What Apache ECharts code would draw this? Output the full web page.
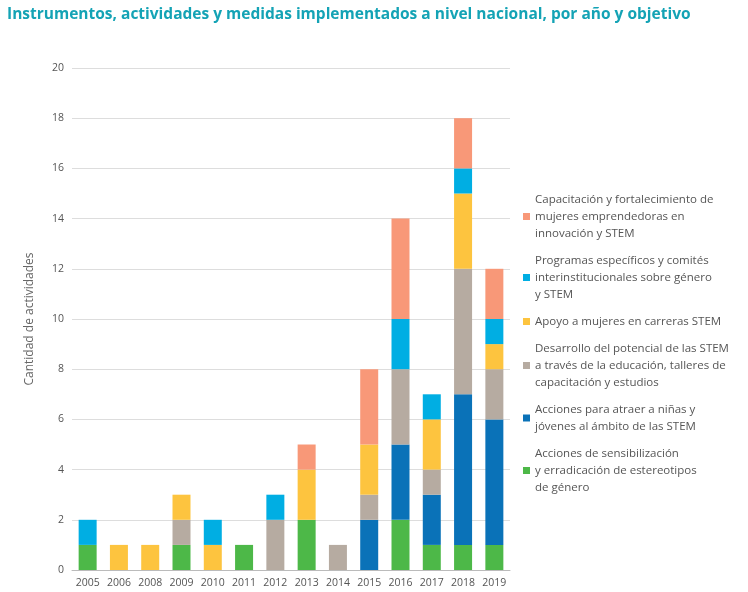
<!DOCTYPE html>
<html><head><meta charset="utf-8">
<script src="https://cdn.jsdelivr.net/npm/echarts@6/dist/echarts.min.js"></script>
<style>body{margin:0}#c{width:748px;height:592px}</style>
</head><body><div id="c"></div>
<script>
var years = ['2005','2006','2008','2009','2010','2011','2012','2013','2014','2015','2016','2017','2018','2019'];
var names = [
  'Acciones de sensibilización\ny erradicación de estereotipos\nde género',
  'Acciones para atraer a niñas y\njóvenes al ámbito de las STEM',
  'Desarrollo del potencial de las STEM\na través de la educación, talleres de\ncapacitación y estudios',
  'Apoyo a mujeres en carreras STEM',
  'Programas específicos y comités\ninterinstitucionales sobre género\ny STEM',
  'Capacitación y fortalecimiento de\nmujeres emprendedoras en\ninnovación y STEM'
];
var colors = ['#4db848','#0a72b8','#b6aba1','#fdc43f','#00aee3','#f89878'];
var sensibilizacion = [1,0,0,1,0,1,0,2,0,0,2,1,1,1];
var atraer          = [0,0,0,0,0,0,0,0,0,2,3,2,6,5];
var desarrollo      = [0,0,0,1,0,0,2,0,1,1,3,1,5,2];
var apoyo           = [0,1,1,1,1,0,0,2,0,2,0,2,3,1];
var programas       = [1,0,0,0,1,0,1,0,0,0,2,1,1,1];
var capacitacion    = [0,0,0,0,0,0,0,1,0,3,4,0,2,2];
var values = [sensibilizacion, atraer, desarrollo, apoyo, programas, capacitacion];

var chart = echarts.init(document.getElementById('c'));
chart.setOption({
  textStyle: { fontFamily: 'Open Sans' },
  title: {
    text: 'Instrumentos, actividades y medidas implementados a nivel nacional, por año y objetivo',
    left: 2, top: 2,
    textStyle: { color: '#14a3b5', fontSize: 15.5, fontWeight: 'bold', fontFamily: 'Open Sans' }
  },
  grid: { left: 72, right: 238, top: 68, bottom: 22 },
  legend: {
    orient: 'vertical', left: 518, top: 186, itemGap: 10,
    icon: 'rect', itemWidth: 7, itemHeight: 7,
    data: names.slice().reverse(),
    textStyle: { color: '#555', fontSize: 11.5, lineHeight: 17 }
  },
  xAxis: {
    type: 'category', data: years,
    axisTick: { show: false },
    axisLine: { lineStyle: { color: '#bbb' } },
    axisLabel: { color: '#555', fontSize: 10.5 }
  },
  yAxis: {
    type: 'value', min: 0, max: 20, interval: 2,
    name: 'Cantidad de actividades', nameLocation: 'middle', nameGap: 36,
    nameTextStyle: { color: '#666', fontSize: 12 },
    axisLabel: { color: '#555', fontSize: 10.5 },
    splitLine: { lineStyle: { color: '#ddd' } }
  },
  series: names.map(function (n, i) {
    return { name: n, type: 'bar', stack: 'a', data: values[i], barWidth: 18,
      itemStyle: { color: colors[i] } };
  })
});
</script></body></html>
